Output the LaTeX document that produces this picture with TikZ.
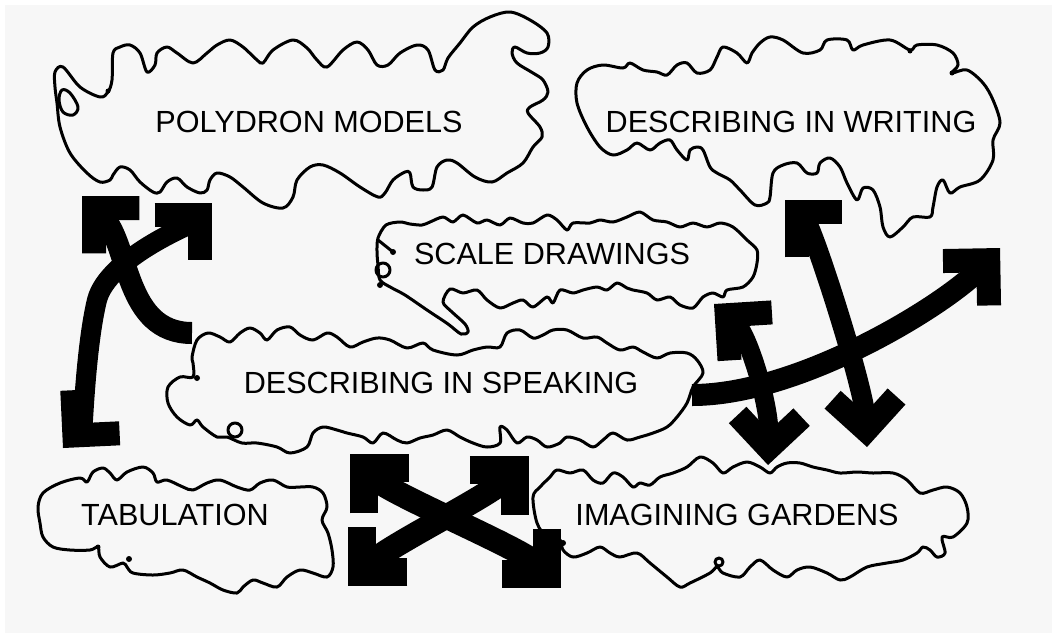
\documentclass[tikz,border=0pt]{standalone}
\usepackage{fontspec}
\setmainfont{Liberation Sans}
\usetikzlibrary{arrows.meta}
\definecolor{paper}{HTML}{F7F7F7}

\begin{document}
\begin{tikzpicture}[x=0.5pt, y=-0.5pt,
    >={Straight Barb[length=16pt, width=32pt, line width=12pt]},
    cloud/.style={line width=1.5pt, line join=round, line cap=round},
    cloudtext/.style={font=\fontsize{15.3}{18}\selectfont, inner sep=0pt},
    shaft/.style={line width=10pt}]
    \fill[white] (0,0) rectangle (1052,633);
    \fill[paper] (5,5) rectangle (1052,633);
    \useasboundingbox (0,0) rectangle (1052,633);

    \node[cloudtext] (poly) at (309,122) {POLYDRON MODELS};
    \node[cloudtext] (write) at (791,122) {DESCRIBING IN WRITING};
    \node[cloudtext] (scale) at (552,254) {SCALE DRAWINGS};
    \node[cloudtext] (speak) at (441,383) {DESCRIBING IN SPEAKING};
    \node[cloudtext] (tab) at (175,515) {TABULATION};
    \node[cloudtext] (garden) at (737,515) {IMAGINING GARDENS};

    \draw[cloud] plot[smooth cycle, tension=0.55] coordinates {
        (55,72) (63,67) (80,87) (100,97) (108,92) (112,80) (113,53) (120,47) (130,45) (140,53)
        (147,72) (155,65) (157,53) (167,47) (177,53) (193,63) (207,53) (217,45) (230,40) (243,47)
        (257,60) (263,63) (273,50) (293,40) (307,48) (317,60) (327,67) (343,50) (357,42) (368,50)
        (377,65) (388,65) (400,53) (417,45) (428,50) (435,70) (443,70) (448,58) (460,43) (473,27)
        (490,17) (510,12) (530,20) (547,33) (548,47) (540,53) (527,53) (515,47) (512,53) (517,63)
        (533,73) (543,80) (548,92) (543,100) (530,107) (528,113) (540,127) (542,137) (533,147)
        (523,163) (507,173) (492,182) (475,177) (457,163) (447,160) (437,167) (432,187) (423,190)
        (413,187) (410,173) (405,172) (393,180) (385,193) (378,197) (360,187) (340,173) (323,165)
        (310,167) (297,180) (293,197) (283,208) (263,203) (243,187) (230,177) (217,173) (210,180)
        (207,190) (200,193) (187,187) (177,178) (167,182) (160,192) (153,192) (140,182) (130,170)
        (120,167) (113,175) (110,180) (100,182) (87,173) (70,153) (60,127) (57,103) (55,87)};
    \draw[cloud] plot[smooth cycle, tension=0.6] coordinates {
        (62,90) (70,93) (78,107) (73,115) (63,112) (59,100)};
    \fill (108,91) circle[radius=2.5];

    \draw[cloud] plot[smooth cycle, tension=0.55] coordinates {
        (577,83) (587,70) (603,65) (623,68) (630,63) (643,70) (657,72) (667,75) (677,65) (687,63)
        (697,73) (710,70) (717,57) (723,47) (737,53) (747,63) (752,53) (760,43) (770,37) (783,40)
        (803,53) (820,50) (827,40) (847,40) (853,50) (863,45) (890,40) (910,50) (917,45) (937,45)
        (953,53) (958,65) (952,73) (967,70) (983,83) (993,100) (1000,123) (993,140) (993,160)
        (980,180) (960,187) (950,193) (943,180) (937,187) (933,207) (930,217) (913,217) (903,227)
        (890,237) (883,227) (880,207) (873,190) (863,188) (857,200) (847,183) (840,167) (830,158)
        (820,163) (817,173) (807,173) (797,163) (783,165) (773,173) (770,197) (767,203) (755,205)
        (740,190) (730,180) (717,173) (710,167) (703,150) (697,147) (690,150) (687,160) (677,150)
        (670,140) (660,143) (650,150) (637,143) (627,150) (613,155) (600,147) (587,127) (577,103)};
    \fill (910,51) circle[radius=2.5];
    \fill (952,73) circle[radius=2.5];

    \draw[cloud] plot[smooth cycle, tension=0.5] coordinates {
        (422,225) (410,224) (400,222) (386,225) (378,238) (377,252) (378,265) (380,280) (392,288)
        (405,295) (427,310) (448,324) (461,334) (468,332) (465,324) (452,312) (443,302) (450,289)
        (463,293) (477,290) (487,300) (500,308) (513,303) (523,300) (533,307) (547,297) (553,303)
        (560,290) (573,293) (583,290) (597,287) (607,290) (617,283) (627,288) (633,290) (647,293)
        (657,300) (670,297) (680,305) (693,308) (703,297) (713,293) (723,297) (727,290) (743,287)
        (753,277) (757,263) (757,250) (747,240) (733,227) (720,223) (707,227) (693,223) (680,227)
        (667,222) (653,220) (640,212) (627,217) (613,222) (600,220) (590,223) (573,223) (567,230)
        (557,220) (547,215) (533,223) (523,223) (510,218) (500,225) (487,220) (477,223) (463,215)
        (453,222) (443,217) (430,222)};
    \draw[cloud] (378,240) -- (393,252);
    \fill (393,252) circle[radius=3];
    \draw[cloud] (383,270) circle[radius=7];
    \fill (380,285) circle[radius=3];

    \draw[cloud] plot[smooth cycle, tension=0.55] coordinates {
        (192,357) (197,340) (208,333) (220,337) (230,342) (240,333) (250,328) (260,333) (267,340)
        (277,330) (290,327) (300,335) (313,340) (327,333) (337,337) (350,347) (363,342) (377,338)
        (390,340) (407,348) (423,343) (433,350) (457,355) (473,350) (487,347) (500,347) (507,333)
        (520,330) (533,338) (543,335) (553,330) (567,330) (583,338) (597,337) (607,343) (620,350)
        (633,347) (643,352) (657,358) (670,353) (687,353) (697,360) (703,373) (693,387) (687,403)
        (677,417) (667,427) (653,433) (640,437) (627,440) (613,433) (603,440) (593,447) (580,440)
        (567,437) (560,443) (547,447) (537,440) (527,437) (517,443) (507,430) (500,427) (500,443)
        (487,447) (473,443) (460,437) (447,430) (433,435) (420,438) (407,443) (397,440) (383,433)
        (373,443) (363,437) (347,433) (337,430) (323,427) (313,433) (307,447) (290,453) (277,447)
        (257,443) (242,443) (227,437) (217,437) (203,427) (197,420) (190,425) (177,417) (168,403)
        (168,387) (180,377) (193,377) (193,363)};
    \draw[cloud] (235,430) circle[radius=7];
    \fill (197,378) circle[radius=3];

    \draw[cloud] plot[smooth cycle, tension=0.55] coordinates {
        (38,507) (43,493) (60,483) (80,478) (87,482) (93,472) (103,468) (110,473) (117,480)
        (127,472) (143,467) (153,473) (157,482) (167,480) (183,487) (193,490) (207,483) (220,480)
        (237,487) (250,490) (260,483) (273,480) (287,487) (300,487) (313,487) (323,493) (327,507)
        (322,520) (328,533) (332,550) (333,567) (327,577) (313,573) (300,570) (287,577) (277,587)
        (263,583) (253,580) (243,587) (237,593) (223,590) (210,583) (197,577) (183,570) (170,573)
        (153,575) (133,573) (127,567) (123,563) (110,567) (100,557) (98,547) (90,550) (70,550)
        (53,547) (43,537) (40,523)};
    \fill (98,547) circle[radius=2.5];
    \fill (129,559) circle[radius=3];

    \draw[cloud] plot[smooth cycle, tension=0.55] coordinates {
        (533,497) (540,487) (550,477) (557,470) (570,473) (583,470) (593,480) (603,483) (613,473)
        (623,477) (633,487) (640,483) (650,485) (660,477) (673,473) (687,467) (700,457) (713,463)
        (723,473) (733,467) (747,462) (760,467) (770,473) (777,467) (787,463) (800,463) (813,467)
        (827,470) (840,473) (857,472) (873,473) (893,473) (907,480) (920,493) (933,490) (947,487)
        (960,493) (967,507) (967,523) (953,537) (942,537) (945,553) (937,557) (930,550) (923,547)
        (917,553) (903,560) (887,563) (867,567) (850,577) (840,580) (827,573) (810,567) (797,570)
        (787,577) (773,570) (760,560) (750,567) (740,577) (723,573) (717,567) (710,573) (690,583)
        (680,587) (667,577) (650,563) (637,553) (620,557) (610,553) (600,547) (587,553) (573,557)
        (563,550) (560,540) (547,537) (537,523)};
    \draw[cloud] (719,562) circle[radius=4];
    \fill (563,543) circle[radius=3];

    \coordinate (aTip) at (82,196);
    \coordinate (aEnd) at (192,333);
    \coordinate (bS) at (63,448);
    \coordinate (bN) at (212,203);
    \coordinate (cN) at (785,200);
    \coordinate (cS) at (867,447);
    \coordinate (dW) at (692,395);
    \coordinate (dE) at (1000,248);
    \coordinate (eN) at (714,304);
    \coordinate (eS) at (768,465);
    \coordinate (fNW) at (350,454);
    \coordinate (fSE) at (561,588);
    \coordinate (gSW) at (348,586);
    \coordinate (gNE) at (529,456);

    \draw[shaft, line width=11pt, ->] (aEnd) .. controls +(-68,0) and +(48,48) .. (aTip);
    \draw[shaft, <->] (bS) .. controls +(20,-22) and (86,345) .. (97,300)
        .. controls (108,258) and +(-22,22) .. (bN);
    \draw[shaft, <->] (cN) .. controls +(28,28) and +(-3,-60) .. (cS);
    \draw[shaft, line width=11pt, ->] (dW) .. controls (800,395) and (945,305) .. (dE);
    \draw[shaft, line width=9.5pt, <->] (eN) .. controls +(34,30) and +(2,-60) .. (eS);
    \draw[shaft, line width=12pt, >={Straight Barb[length=16pt, width=32pt, line width=14pt]}, <->]
        (fNW) .. controls +(40,40) and +(-40,-40) .. (fSE);
    \draw[shaft, line width=12pt, >={Straight Barb[length=16pt, width=32pt, line width=14pt]}, <->]
        (gSW) .. controls +(40,-40) and +(-40,40) .. (gNE);
\end{tikzpicture}
\end{document}
